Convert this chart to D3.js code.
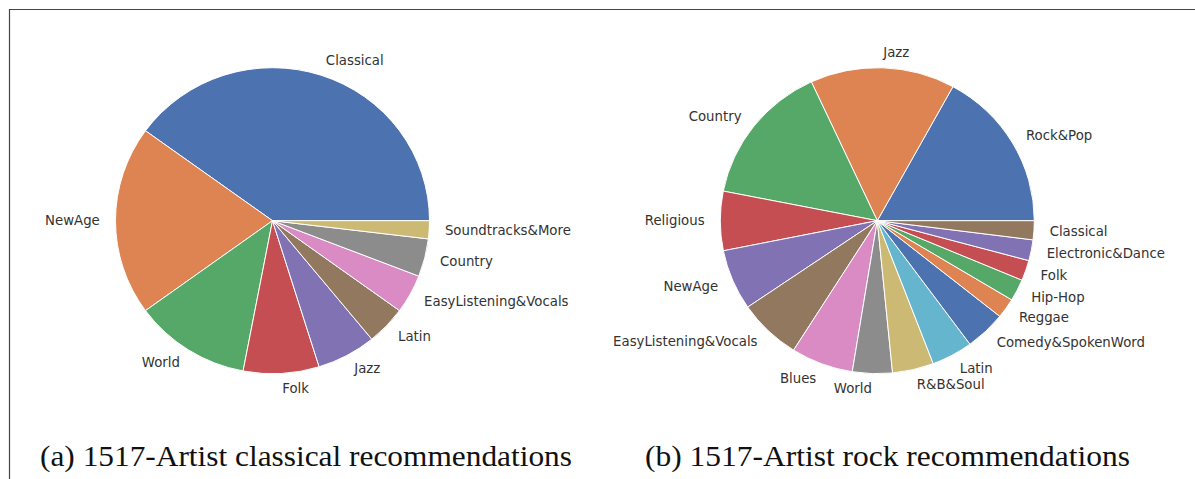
<!DOCTYPE html>
<html>
<head>
<meta charset="utf-8">
<script src="https://cdn.jsdelivr.net/npm/d3@7"></script>
<style>
  html, body { margin: 0; padding: 0; background: #fff; }
  svg { display: block; }
</style>
</head>
<body>
<svg id="chart" width="1195" height="479"></svg>
<script>
// ---- data ----
const leftLabels = ["Classical", "NewAge", "World", "Folk", "Jazz", "Latin", "EasyListening&Vocals", "Country", "Soundtracks&More"];
const leftValues = [40.0, 20.0, 12.0, 7.8, 6.1, 4.1, 4.1, 4.0, 1.9];

const rightLabels = ["Rock&Pop", "Jazz", "Country", "Religious", "NewAge", "EasyListening&Vocals", "Blues", "World", "R&B&Soul", "Latin", "Comedy&SpokenWord", "Reggae", "Hip-Hop", "Folk", "Electronic&Dance", "Classical"];
const rightValues = [17.0, 14.9, 15.0, 6.25, 6.4, 6.5, 6.4, 4.1, 4.25, 4.25, 4.2, 2.1, 2.3, 2.15, 2.2, 2.0];

const titles = ["(a) 1517-Artist classical recommendations", "(b) 1517-Artist rock recommendations"];

const palette = ["#4C72B0", "#DD8452", "#55A868", "#C44E52", "#8172B3", "#937860", "#DA8BC3", "#8C8C8C", "#CCB974", "#64B5CD"];

// ---- drawing ----
const svg = d3.select("#chart");

// frame lines
svg.append("line").attr("x1", 9).attr("y1", 9.5).attr("x2", 1195).attr("y2", 9.5)
  .attr("stroke", "#444").attr("stroke-width", 1.2);
svg.append("line").attr("x1", 9.5).attr("y1", 9).attr("x2", 9.5).attr("y2", 479)
  .attr("stroke", "#444").attr("stroke-width", 1.2);

const rx = 157, ry = 153;
const color = d3.scaleOrdinal().range(palette);

function drawPie(cx, cy, labels, values) {
  const pie = d3.pie().sort(null).value(d => d)
    .startAngle(Math.PI / 2).endAngle(Math.PI / 2 - 2 * Math.PI);
  const arcs = pie(values);
  const arc = d3.arc().innerRadius(0).outerRadius(rx);
  const c = d3.scaleOrdinal().domain(labels).range(palette);

  const g = svg.append("g").attr("transform", `translate(${cx},${cy})`);
  g.append("g").attr("transform", `scale(1,${ry / rx})`)
    .selectAll("path").data(arcs).enter().append("path")
    .attr("d", arc)
    .attr("fill", (d, i) => c(labels[i]))
    .attr("stroke", "#ffffff")
    .attr("stroke-width", 1)
    .attr("stroke-linejoin", "round");

  g.selectAll("text").data(arcs).enter().append("text")
    .each(function (d, i) {
      const mid = (d.startAngle + d.endAngle) / 2;
      const x = Math.sin(mid) * rx * 1.1;
      const y = -Math.cos(mid) * ry * 1.1;
      d3.select(this)
        .attr("x", x).attr("y", y)
        .attr("text-anchor", x > 0 ? "start" : "end")
        .attr("dominant-baseline", "central")
        .text(labels[i]);
    })
    .attr("font-family", "'DejaVu Sans', sans-serif")
    .attr("font-size", "13.3px")
    .attr("fill", "#333333");
}

drawPie(272.5, 220.7, leftLabels, leftValues);
drawPie(877.3, 220.7, rightLabels, rightValues);

svg.append("text").attr("x", 40).attr("y", 466)
  .attr("font-family", "'Liberation Serif', 'DejaVu Serif', serif")
  .attr("font-size", "30px").attr("fill", "#111")
  .attr("textLength", 532).attr("lengthAdjust", "spacingAndGlyphs")
  .text(titles[0]);
svg.append("text").attr("x", 645).attr("y", 466)
  .attr("font-family", "'Liberation Serif', 'DejaVu Serif', serif")
  .attr("font-size", "30px").attr("fill", "#111")
  .attr("textLength", 485).attr("lengthAdjust", "spacingAndGlyphs")
  .text(titles[1]);
</script>
</body>
</html>
